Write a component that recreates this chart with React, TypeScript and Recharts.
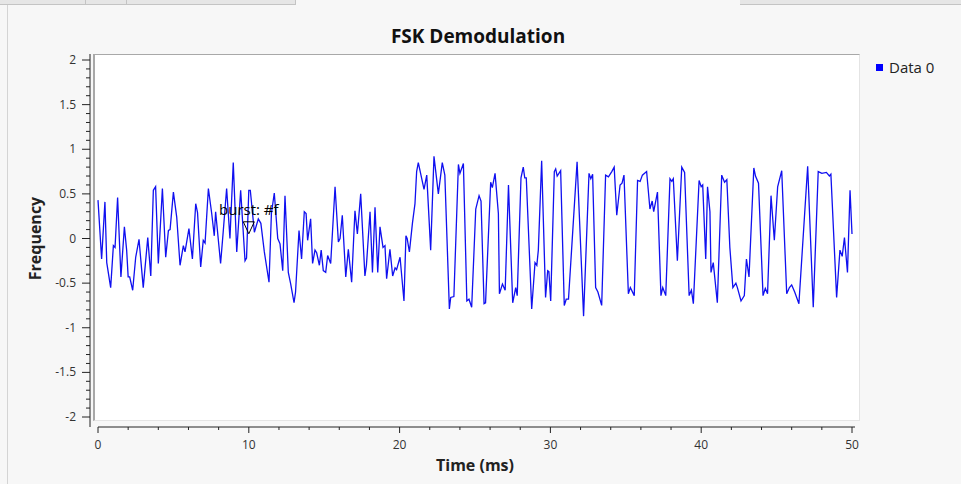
import { LineChart, Line, XAxis, YAxis, Legend, ReferenceDot } from 'recharts'

// demodulated instantaneous frequency, sample times in ms
const timeMs = [
	0, 0.24, 0.46, 0.58, 0.84, 1.02, 1.13, 1.3, 1.52, 1.75,
	1.9, 2.0, 2.1, 2.3, 2.5, 2.72, 3.0, 3.3, 3.5, 3.67,
	3.82, 4.0, 4.27, 4.49, 4.67, 4.78, 5.0, 5.22, 5.44, 5.66,
	5.77, 6.03, 6.26, 6.48, 6.6, 6.81, 6.98, 7.1, 7.32, 7.54,
	7.71, 7.8, 8.13, 8.31, 8.53, 8.75, 8.97, 9.2, 9.46, 9.75,
	9.85, 10.0, 10.1, 10.37, 10.63, 10.8, 11.03, 11.34, 11.5, 11.69,
	11.92, 12.07, 12.25, 12.4, 12.62, 12.78, 13.0, 13.1, 13.33, 13.5,
	13.68, 13.8, 13.9, 14.1, 14.23, 14.39, 14.5, 14.68, 14.8, 14.94,
	15.1, 15.23, 15.43, 15.72, 15.94, 16.05, 16.2, 16.43, 16.6, 16.82,
	17.04, 17.2, 17.42, 17.7, 17.8, 18.04, 18.2, 18.37, 18.55, 18.7,
	18.9, 19.03, 19.14, 19.36, 19.54, 19.7, 19.8, 20.03, 20.29, 20.42,
	20.5, 20.65, 20.85, 21.02, 21.13, 21.24, 21.62, 21.8, 22.06, 22.28,
	22.57, 22.83, 23.0, 23.3, 23.39, 23.6, 23.9, 24.0, 24.23, 24.46,
	24.6, 24.78, 25.05, 25.27, 25.4, 25.6, 25.7, 26.04, 26.15, 26.33,
	26.55, 26.62, 26.82, 27.0, 27.22, 27.5, 27.7, 27.8, 28.05, 28.2,
	28.3, 28.4, 28.76, 28.98, 29.1, 29.2, 29.42, 29.68, 29.82, 29.9,
	30.02, 30.26, 30.35, 30.45, 30.68, 30.92, 31.05, 31.2, 31.77, 32.2,
	32.56, 32.68, 32.8, 33.0, 33.15, 33.4, 33.66, 33.85, 34.07, 34.23,
	34.4, 34.62, 34.75, 34.88, 35.17, 35.3, 35.56, 35.78, 35.95, 36.1,
	36.38, 36.6, 36.75, 36.85, 37.1, 37.33, 37.45, 37.65, 37.93, 38.05,
	38.15, 38.42, 38.71, 38.9, 39.2, 39.35, 39.48, 39.86, 40.0, 40.1,
	40.3, 40.42, 40.58, 40.65, 40.8, 41.07, 41.36, 41.55, 41.7, 41.9,
	42.1, 42.3, 42.4, 42.64, 42.86, 43.0, 43.17, 43.49, 43.6, 43.8,
	44.1, 44.25, 44.4, 44.63, 44.85, 45.07, 45.34, 45.67, 45.85, 46.0,
	46.2, 46.48, 47.06, 47.43, 47.76, 48.0, 48.3, 48.5, 48.6, 48.98,
	49.2, 49.35, 49.5, 49.7, 49.87, 50.0,
]

const frequency = [
	0.43, -0.23, 0.41, -0.27, -0.55, -0.08, -0.1, 0.46, -0.43, 0.13,
	-0.13, -0.43, -0.43, -0.58, -0.21, -0.01, -0.55, 0.01, -0.42, 0.54,
	0.58, -0.28, 0.56, -0.21, 0.09, 0.1, 0.52, 0.24, -0.3, -0.08,
	-0.15, 0.11, -0.23, 0.39, 0.29, -0.32, -0.02, -0.05, 0.56, 0.28,
	0.03, 0.3, -0.28, 0.09, 0.56, 0.0, 0.85, -0.15, 0.54, -0.25,
	-0.22, 0.54, 0.54, 0.07, 0.22, 0.17, -0.15, -0.49, 0.28, 0.51,
	0.0, -0.06, -0.36, 0.48, -0.38, -0.51, -0.72, -0.6, 0.09, -0.23,
	0.3, 0.28, -0.02, 0.22, -0.28, -0.13, -0.16, -0.3, -0.13, -0.36,
	-0.38, -0.19, -0.28, 0.58, -0.04, 0.0, 0.26, -0.43, -0.12, -0.49,
	0.31, 0.05, 0.5, -0.42, -0.3, 0.3, -0.38, 0.35, -0.38, 0.13,
	-0.1, -0.08, -0.45, -0.12, -0.42, -0.33, -0.35, -0.21, -0.7, 0.03,
	0.0, -0.15, 0.17, 0.39, 0.75, 0.85, 0.55, 0.71, -0.13, 0.92,
	0.5, 0.85, 0.71, -0.79, -0.66, -0.65, 0.83, 0.73, 0.84, -0.7,
	-0.68, -0.77, 0.33, 0.48, 0.42, -0.73, -0.72, 0.63, 0.57, 0.73,
	0.28, -0.62, -0.51, -0.58, 0.6, -0.72, -0.55, -0.64, 0.68, 0.8,
	0.68, 0.68, -0.79, -0.27, -0.3, -0.13, 0.87, -0.66, -0.36, -0.37,
	-0.7, 0.75, 0.78, 0.7, 0.76, -0.75, -0.68, -0.68, 0.86, -0.87,
	0.73, 0.67, 0.72, -0.55, -0.6, -0.75, 0.71, 0.69, 0.75, 0.8,
	0.26, 0.6, 0.62, 0.71, -0.62, -0.55, -0.64, 0.65, 0.64, 0.71,
	0.75, 0.33, 0.42, 0.3, 0.52, -0.64, -0.55, -0.64, 0.67, 0.64,
	0.67, -0.25, 0.8, 0.74, -0.64, -0.58, -0.73, 0.65, 0.58, 0.6,
	-0.23, 0.58, 0.3, -0.38, -0.27, -0.72, 0.71, 0.63, 0.66, -0.1,
	-0.55, -0.5, -0.55, -0.7, -0.64, -0.23, -0.43, 0.79, 0.7, 0.62,
	-0.64, -0.56, -0.62, 0.48, -0.02, 0.58, 0.76, -0.62, -0.55, -0.52,
	-0.6, -0.73, 0.81, -0.77, 0.75, 0.73, 0.74, 0.7, 0.72, -0.66,
	-0.13, -0.2, 0.01, -0.38, 0.54, 0.05,
]

// stream tag
const tagTime = 10
const tagValue = 0.12
const tagLabel = 'burst: #f'

const xMajorTicks = [0, 10, 20, 30, 40, 50]
const yMajorTicks = [-2, -1.5, -1, -0.5, 0, 0.5, 1, 1.5, 2]
// minor ticks: every 2 ms on x, every 0.1 on y
const xTicks = Array.from({ length: 26 }, (_, i) => i * 2)
const yTicks = Array.from({ length: 41 }, (_, i) => Math.round((i * 0.1 - 2) * 10) / 10)

const data = timeMs.map((t, i) => ({ t, v: frequency[i] }))

const FONT = "'Open Sans', 'DejaVu Sans', sans-serif"
const INK = '#222'

const XTick = ({ x, y, payload }: any) => {
	const major = xMajorTicks.includes(payload.value)
	const y0 = y - 10
	return (
		<g>
			<line x1={x} x2={x} y1={y0} y2={y0 + (major ? 6 : 3)} stroke={INK} />
			{major && (
				<text x={x} y={y0 + 22} textAnchor='middle' fontSize={12} fill='#333' fontFamily={FONT}>
					{payload.value}
				</text>
			)}
		</g>
	)
}

const YTick = ({ x, y, payload }: any) => {
	const major = yMajorTicks.some((m) => Math.abs(m - payload.value) < 1e-6)
	return (
		<g>
			<line x1={x + (major ? 6 : 10)} x2={x + 14} y1={y} y2={y} stroke={INK} />
			{major && (
				<text x={x} y={y + 4} textAnchor='end' fontSize={12} fill='#333' fontFamily={FONT}>
					{payload.value}
				</text>
			)}
		</g>
	)
}

const TagMarker = ({ cx, cy }: any) => (
	<g>
		<polygon
			points={`${cx - 5.5},${cy - 6} ${cx + 5.5},${cy - 6} ${cx},${cy + 6}`}
			fill='none'
			stroke='#000'
			strokeWidth={1}
		/>
		<text x={cx} y={cy - 13} textAnchor='middle' fontSize={15} fill='#000' fontFamily={FONT}>
			{tagLabel}
		</text>
	</g>
)

const renderLegend = ({ payload }: any) => (
	<div>
		{(payload || []).map((entry: any) => (
			<div key={entry.value} style={{ display: 'flex', alignItems: 'center', fontFamily: FONT }}>
				<span style={{ width: 7, height: 7, background: '#0000ff', display: 'inline-block' }} />
				<span style={{ marginLeft: 6, fontSize: 15, color: INK }}>{entry.value}</span>
			</div>
		))}
	</div>
)

const FrequencyLabel = ({ viewBox }: any) => {
	const cx = viewBox.x + 35
	const cy = viewBox.y + viewBox.height / 2 - 2
	return (
		<text
			x={cx}
			y={cy}
			transform={`rotate(-90, ${cx}, ${cy})`}
			textAnchor='middle'
			dominantBaseline='central'
			fontSize={16}
			fontWeight={700}
			fill={INK}
			fontFamily={FONT}
		>
			Frequency
		</text>
	)
}

export default function App() {
	return (
		<div
			style={{
				position: 'fixed',
				left: 0,
				top: 0,
				width: 961,
				height: 484,
				background: '#f7f7f7',
				overflow: 'hidden',
				fontFamily: FONT,
			}}
		>
			{/* tab strip */}
			<div style={{ position: 'absolute', left: 0, top: 0, width: 295, height: 4, background: '#e6e6e6', borderBottom: '1px solid #c4c4c4' }} />
			<div style={{ position: 'absolute', left: 85, top: 0, width: 1, height: 4, background: '#c4c4c4' }} />
			<div style={{ position: 'absolute', left: 126, top: 0, width: 1, height: 4, background: '#c4c4c4' }} />
			<div style={{ position: 'absolute', left: 295, top: 0, width: 445, height: 5, borderLeft: '1px solid #c4c4c4', borderRight: '1px solid #c4c4c4' }} />
			<div style={{ position: 'absolute', left: 740, top: 0, width: 221, height: 4, background: '#e6e6e6', borderBottom: '1px solid #c4c4c4' }} />
			<div style={{ position: 'absolute', left: 7, top: 5, width: 1, height: 479, background: '#d4d4d4' }} />

			{/* title */}
			<div
				style={{
					position: 'absolute',
					left: 90,
					width: 776,
					top: 23,
					textAlign: 'center',
					fontSize: 19,
					fontWeight: 700,
					color: '#111',
				}}
			>
				FSK Demodulation
			</div>

			{/* plot canvas */}
			<div
				style={{
					position: 'absolute',
					left: 93,
					top: 54,
					width: 767,
					height: 367,
					boxSizing: 'border-box',
					background: '#fff',
					borderTop: '1px solid #a8a8a8',
					borderLeft: '2px solid #a8a8a8',
					borderRight: '1px solid #e4e4e4',
					borderBottom: '1px solid #e4e4e4',
				}}
			/>

			<div style={{ position: 'absolute', left: 0, top: 0 }}>
				<LineChart width={961} height={484} data={data} margin={{ top: 54, right: 101, bottom: 0, left: 0 }}>
					<XAxis
						type='number'
						dataKey='t'
						domain={[0, 50]}
						ticks={xTicks}
						interval={0}
						height={57}
						padding={{ left: 8, right: 8 }}
						axisLine={{ stroke: INK, strokeDasharray: '0 8 757 100' }}
						tickLine={false}
						tickSize={6}
						tickMargin={4}
						tick={<XTick />}
						label={{
							value: 'Time (ms)',
							position: 'insideBottom',
							offset: 13,
							style: { fontSize: 16, fontWeight: 700, fill: INK, fontFamily: FONT },
						}}
					/>
					<YAxis
						type='number'
						domain={[-2, 2]}
						ticks={yTicks}
						interval={0}
						width={90}
						padding={{ top: 6, bottom: 10 }}
						axisLine={{ stroke: INK }}
						tickLine={false}
						tickSize={8}
						tickMargin={6}
						tick={<YTick />}
						label={<FrequencyLabel />}
					/>
					<Line
						type='linear'
						dataKey='v'
						name='Data 0'
						stroke='#1010f0'
						strokeWidth={1.3}
						dot={false}
						isAnimationActive={false}
					/>
					<ReferenceDot x={tagTime} y={tagValue} shape={<TagMarker />} ifOverflow='visible' />
					<Legend
						layout='vertical'
						align='center'
						verticalAlign='middle'
						wrapperStyle={{ top: 57, left: 876 }}
						content={renderLegend}
					/>
				</LineChart>
			</div>
		</div>
	)
}
